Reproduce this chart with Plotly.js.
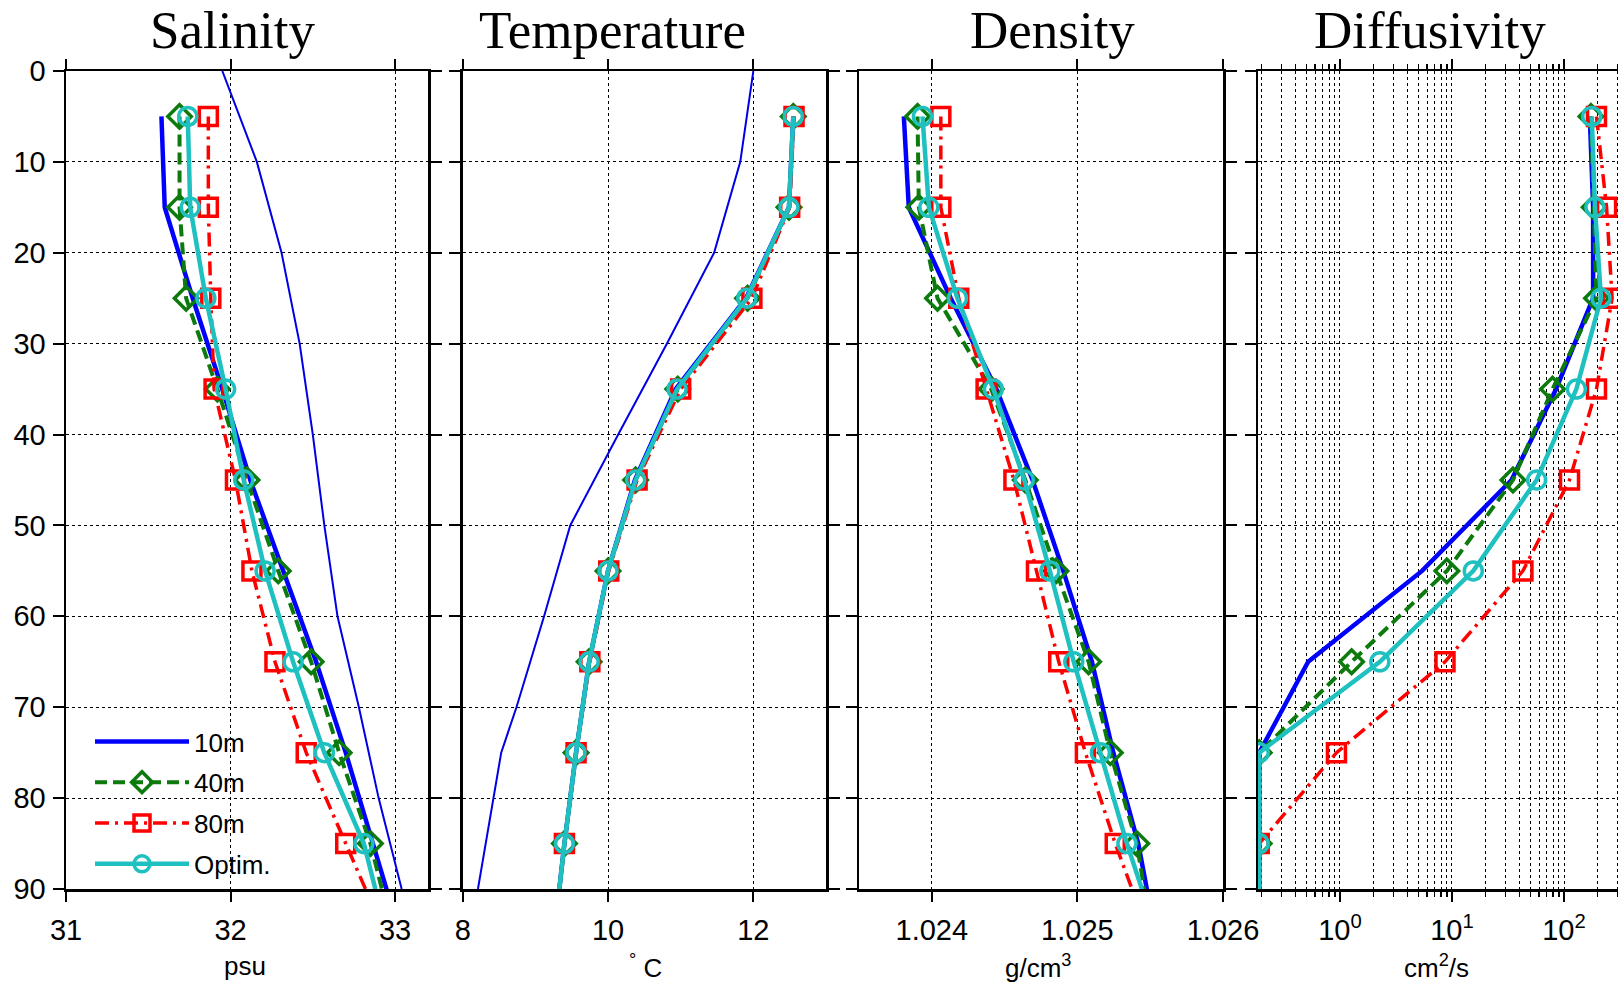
<!DOCTYPE html>
<html><head><meta charset="utf-8">
<script src="https://cdn.plot.ly/plotly-3.0.1.min.js"></script>
<style>html,body{margin:0;padding:0;overflow:hidden;background:#fff}</style>
</head><body><div id="chart" style="width:1700px;height:987px"></div>
<script>
// ---------- data ----------
const seriesNames = ['10m', '40m', '80m', 'Optim.'];
const depthModel = [5, 15, 25, 35, 45, 55, 65, 75, 85, 95];

const depthSalObs = [0, 10, 20, 30, 40, 50, 60, 70, 80, 90];
const salObs = [31.95, 32.16, 32.31, 32.42, 32.50, 32.57, 32.65, 32.78, 32.90, 33.04];
const sal10  = [31.58, 31.60, 31.77, 31.95, 32.12, 32.32, 32.52, 32.70, 32.87, 33.03];
const sal40  = [31.69, 31.69, 31.73, 31.92, 32.10, 32.29, 32.49, 32.66, 32.85, 32.99];
const sal80  = [31.865, 31.865, 31.88, 31.90, 32.03, 32.13, 32.27, 32.46, 32.70, 32.94];
const salOpt = [31.74, 31.755, 31.85, 31.97, 32.08, 32.21, 32.38, 32.57, 32.81, 32.95];

const depthTempObs = [0, 10, 20, 30, 40, 50, 60, 70, 75, 80, 90];
const tempObs = [12.0, 11.82, 11.46, 10.81, 10.14, 9.48, 9.12, 8.74, 8.53, 8.42, 8.21];
const temp10  = [12.55, 12.49, 11.90, 10.93, 10.37, 10.00, 9.74, 9.56, 9.40, 9.26];
const temp40  = [12.55, 12.49, 11.92, 10.96, 10.38, 10.00, 9.74, 9.56, 9.40, 9.26];
const temp80  = [12.56, 12.50, 11.98, 11.00, 10.40, 10.01, 9.75, 9.56, 9.40, 9.26];
const tempOpt = [12.55, 12.49, 11.91, 10.95, 10.38, 10.00, 9.74, 9.56, 9.40, 9.26];

const dens10  = [1.023808, 1.023842, 1.024130, 1.024444, 1.024692, 1.024903, 1.025100, 1.025247, 1.025418, 1.025536];
const dens40  = [1.023902, 1.023911, 1.024039, 1.024408, 1.024642, 1.024853, 1.025077, 1.025226, 1.025408, 1.025510];
const dens80  = [1.024062, 1.024062, 1.024185, 1.024373, 1.024564, 1.024719, 1.024872, 1.025055, 1.025260, 1.025490];
const densOpt = [1.023936, 1.023980, 1.024176, 1.024423, 1.024635, 1.024811, 1.024975, 1.025158, 1.025340, 1.025546];

const diff10  = [170, 182, 182, 85, 34, 5.4, 0.52, 0.19, 0.19, 0.19];
const diff40  = [174, 186, 195, 79, 35, 9.0, 1.27, 0.19, 0.19, 0.19];
const diff80  = [195, 240, 269, 195, 112, 43, 8.66, 0.93, 0.19, 0.19];
const diffOpt = [177, 189, 214, 129, 57, 15.5, 2.27, 0.19, 0.19, 0.19];

const panelTitles = ['Salinity', 'Temperature', 'Density', 'Diffusivity'];
const unitLabels = ['psu', '<sup>°</sup> C', 'g/cm<sup>3</sup>', 'cm<sup>2</sup>/s'];
const salTicks = [31, 32, 33];
const tempTicks = [8, 10, 12];
const densTicks = [1.024, 1.025, 1.026];
const diffTickVals = [1, 10, 100];
const diffTickText = ['10<sup>0</sup>', '10<sup>1</sup>', '10<sup>2</sup>'];
const depthTicks = [0, 10, 20, 30, 40, 50, 60, 70, 80, 90];

// ---------- layout helpers ----------
const W = 1700, H = 987;
const fx = p => p / W;
const fy = p => 1 - p / H;
const TOP = 71, BOT = 889;
const panelPx = [[66, 428], [462.7, 826], [859, 1223], [1258, 1676]];
const titlePx = [232, 612, 1052, 1430];
const unitPx = [245, 645, 1038, 1436];

const styles = [
  {color: '#0000ff', width: 4.5, dash: 'solid', symbol: null},
  {color: '#0c7a0c', width: 4, dash: '12px,6px', symbol: 'diamond-open'},
  {color: '#ff0000', width: 3.5, dash: '14px,6px,3px,6px', symbol: 'square-open'},
  {color: '#1fc0c0', width: 4.5, dash: 'solid', symbol: 'circle-open'}
];

const traces = [];
function obsTrace(x, y, ax) {
  traces.push({x: x, y: y, xaxis: 'x' + ax, yaxis: 'y' + ax, mode: 'lines',
    line: {color: '#0000e6', width: 2}, showlegend: false, hoverinfo: 'skip'});
}
function panelTraces(vals, ax) {
  vals.forEach((v, i) => {
    const s = styles[i];
    const t = {x: v, y: depthModel, xaxis: 'x' + ax, yaxis: 'y' + ax,
      name: seriesNames[i], legendgroup: 'g' + i, showlegend: ax === '',
      line: {color: s.color, width: s.width, dash: s.dash}};
    if (s.symbol) {
      t.mode = 'lines+markers';
      t.marker = {symbol: s.symbol, size: 18, color: s.color, line: {color: s.color, width: 3.5}};
    } else {
      t.mode = 'lines';
    }
    traces.push(t);
  });
}

obsTrace(salObs, depthSalObs, '');
panelTraces([sal10, sal40, sal80, salOpt], '');
obsTrace(tempObs, depthTempObs, '2');
panelTraces([temp10, temp40, temp80, tempOpt], '2');
panelTraces([dens10, dens40, dens80, densOpt], '3');
panelTraces([diff10, diff40, diff80, diffOpt], '4');

const tickFont = {family: 'Liberation Sans, Arial, sans-serif', size: 29, color: '#000'};
function xAxis(i, extra) {
  return Object.assign({
    domain: [fx(panelPx[i][0]), fx(panelPx[i][1])],
    anchor: 'y' + (i === 0 ? '' : i + 1),
    showline: true, linecolor: '#000', linewidth: 2.5, mirror: 'ticks',
    ticks: 'outside', ticklen: 10, tickwidth: 2, tickcolor: '#000',
    showgrid: true, gridcolor: '#000', gridwidth: 1, griddash: 'dot',
    zeroline: false, tickfont: tickFont, ticklabelstandoff: 4
  }, extra);
}
function yAxis(i, showLabels) {
  return {
    domain: [fy(BOT), fy(TOP)],
    anchor: 'x' + (i === 0 ? '' : i + 1),
    range: [90, 0], tickmode: 'array', tickvals: depthTicks,
    showline: true, linecolor: '#000', linewidth: 2.5, mirror: 'ticks',
    ticks: 'outside', ticklen: 11, tickwidth: 2, tickcolor: '#000',
    showgrid: true, gridcolor: '#000', gridwidth: 1, griddash: 'dot',
    zeroline: false, showticklabels: showLabels, tickfont: tickFont,
    ticklabelstandoff: 1
  };
}

const annotations = [];
panelTitles.forEach((t, i) => annotations.push({
  text: t, xref: 'paper', yref: 'paper', x: fx(titlePx[i]), y: fy(30),
  xanchor: 'center', yanchor: 'middle', showarrow: false,
  font: {family: 'Liberation Serif, Times New Roman, serif', size: 53, color: '#000'}
}));
unitLabels.forEach((t, i) => annotations.push({
  text: t, xref: 'paper', yref: 'paper', x: fx(unitPx[i]), y: fy(966),
  xanchor: 'center', yanchor: 'middle', showarrow: false,
  font: {family: 'Liberation Sans, Arial, sans-serif', size: 26, color: '#000'}
}));

const layout = {
  width: W, height: H,
  margin: {l: 0, r: 0, t: 0, b: 0, pad: 0},
  paper_bgcolor: '#fff', plot_bgcolor: '#fff',
  showlegend: true,
  legend: {x: fx(90), y: fy(718), xanchor: 'left', yanchor: 'top',
    bgcolor: 'rgba(0,0,0,0)', borderwidth: 0, itemwidth: 94, tracegroupgap: 4,
    font: {family: 'Liberation Sans, Arial, sans-serif', size: 26, color: '#000'}},
  xaxis: xAxis(0, {range: [31, 33.2], tickmode: 'array', tickvals: salTicks}),
  xaxis2: xAxis(1, {range: [8, 13], tickmode: 'array', tickvals: tempTicks}),
  xaxis3: xAxis(2, {range: [1.0235, 1.026], tickmode: 'array', tickvals: densTicks, tickformat: '.3f'}),
  xaxis4: xAxis(3, {type: 'log', range: [-0.732, 3], tickmode: 'array',
    tickvals: diffTickVals, ticktext: diffTickText,
    minor: {dtick: 'D1', showgrid: true, gridcolor: '#000', gridwidth: 1, griddash: 'dot',
      ticks: 'outside', ticklen: 5, tickwidth: 1.5, tickcolor: '#000'}}),
  yaxis: yAxis(0, true),
  yaxis2: yAxis(1, false),
  yaxis3: yAxis(2, false),
  yaxis4: yAxis(3, false),
  annotations: annotations
};

Plotly.newPlot('chart', traces, layout, {displayModeBar: false, staticPlot: true});
</script>
</body></html>
